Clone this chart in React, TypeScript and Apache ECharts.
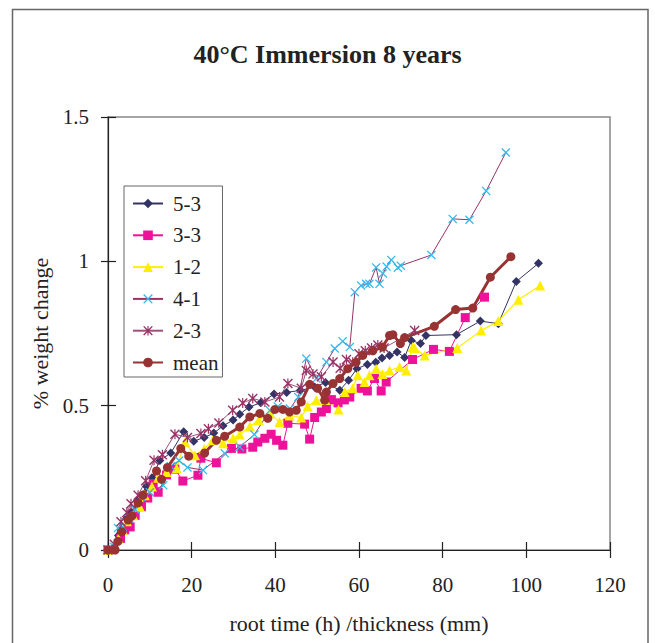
import React, { useEffect, useRef } from "react";
import * as echarts from "echarts";

const titleText = "40°C Immersion 8 years";
const xAxisName = "root time (h) /thickness (mm)";
const yAxisName = "% weight change";
const seriesNames = ["5-3", "3-3", "1-2", "4-1", "2-3", "mean"];

const x53 = [0, 1.5, 2.5, 3.5, 4.5, 5.5, 7, 9.2, 10.5, 12.4, 15, 18.1, 20.5, 23, 25.3, 27.5, 29.9, 31.5, 33.7, 36.5, 39.7, 42.7, 46, 49.4, 52, 55.4, 57.5, 59.5, 62, 64, 65.5, 67.3, 69.1, 70.9, 72.5, 74.7, 76, 83.3, 89, 93.3, 97.6, 102.9];
const y53 = [0, 0.01, 0.05, 0.08, 0.11, 0.13, 0.17, 0.22, 0.25, 0.31, 0.336, 0.41, 0.377, 0.39, 0.405, 0.43, 0.45, 0.47, 0.495, 0.51, 0.54, 0.546, 0.553, 0.565, 0.58, 0.553, 0.588, 0.628, 0.643, 0.65, 0.665, 0.674, 0.686, 0.667, 0.726, 0.715, 0.743, 0.746, 0.793, 0.784, 0.93, 0.993];

const x33 = [0, 1.7, 3, 4, 5.3, 6.5, 8, 9.5, 10.8, 12, 14, 16, 17.9, 21.5, 22.2, 25.9, 29.5, 32, 34.6, 35.8, 37.5, 39, 40.3, 41.8, 43, 47, 48.2, 49.4, 51, 52.2, 53.4, 55, 56.5, 57.8, 60.5, 62, 63.7, 65.3, 66.5, 72.8, 77.8, 81.6, 85.4, 90];
const y33 = [0, -0.01, 0.04, 0.07, 0.08, 0.12, 0.15, 0.18, 0.23, 0.2, 0.26, 0.28, 0.239, 0.259, 0.318, 0.302, 0.352, 0.35, 0.356, 0.374, 0.387, 0.401, 0.38, 0.363, 0.439, 0.436, 0.384, 0.459, 0.478, 0.49, 0.521, 0.51, 0.52, 0.53, 0.56, 0.551, 0.594, 0.551, 0.582, 0.66, 0.695, 0.688, 0.805, 0.876];

const x12 = [0, 1.5, 2.5, 3.5, 4.5, 6, 7.6, 8.8, 10.5, 12, 14, 16.4, 18.4, 20.8, 23, 25, 27.5, 29.9, 31.5, 33.9, 36, 38.7, 41, 43.4, 46.2, 47.7, 49.8, 52, 55.1, 56.6, 58.5, 59.7, 61.3, 62.5, 64.1, 65.6, 67.3, 69.7, 71.3, 72.8, 73.3, 75.7, 83.5, 89.2, 93.3, 98.1, 103.3];
const y12 = [0, 0.01, 0.04, 0.07, 0.1, 0.12, 0.15, 0.19, 0.22, 0.25, 0.27, 0.283, 0.374, 0.328, 0.35, 0.38, 0.37, 0.387, 0.4, 0.428, 0.45, 0.474, 0.443, 0.466, 0.459, 0.498, 0.519, 0.52, 0.487, 0.547, 0.56, 0.605, 0.582, 0.605, 0.628, 0.61, 0.622, 0.634, 0.622, 0.703, 0.7, 0.674, 0.7, 0.76, 0.793, 0.867, 0.916];

const x41 = [0, 1.5, 2.4, 3.5, 5, 6.5, 8, 10, 13.2, 15, 17, 19, 22.7, 27.9, 31.5, 35, 38.7, 40.6, 43.5, 45.5, 47.4, 49.8, 52.2, 54.2, 56.1, 57.8, 59, 60.5, 61.7, 62.5, 64.1, 64.9, 65.7, 66.6, 67.7, 69.3, 70, 77.3, 82.4, 86.4, 90.4, 95.1];
const y41 = [0, 0.01, 0.076, 0.08, 0.11, 0.14, 0.184, 0.2, 0.224, 0.29, 0.31, 0.286, 0.277, 0.335, 0.357, 0.4, 0.484, 0.497, 0.49, 0.53, 0.663, 0.594, 0.651, 0.698, 0.723, 0.703, 0.893, 0.916, 0.922, 0.922, 0.979, 0.922, 0.958, 0.982, 1.005, 0.978, 0.985, 1.022, 1.147, 1.144, 1.244, 1.377];

const x23 = [0, 1.5, 3.1, 4.5, 5.5, 7.2, 9, 11, 13, 16, 19, 22.2, 24, 26.5, 29.8, 32.2, 34.6, 37.5, 41, 43, 46.2, 47.4, 49, 51, 53.8, 55.5, 57, 58.5, 60, 61.5, 63, 64.5, 66, 73.3];
const y23 = [0, 0.02, 0.098, 0.13, 0.16, 0.19, 0.24, 0.311, 0.33, 0.401, 0.39, 0.404, 0.42, 0.44, 0.484, 0.509, 0.525, 0.513, 0.53, 0.577, 0.56, 0.622, 0.61, 0.6, 0.651, 0.63, 0.66, 0.65, 0.68, 0.69, 0.7, 0.71, 0.7, 0.76];

const xMean = [0, 1.7, 2.4, 3.3, 4.8, 5.7, 7.2, 8.4, 11.6, 12.8, 14.2, 17.4, 19.3, 23.1, 25.9, 27.9, 31.5, 33.9, 36.3, 38.2, 39.9, 41.8, 43.4, 45, 46.2, 48.2, 50.1, 51.8, 52.2, 53.8, 55.4, 57.3, 59.3, 60.9, 63.3, 65.6, 67.3, 68.1, 69.9, 70.9, 78, 83.1, 87.2, 91.4, 96.3];
const yMean = [0, 0, 0.03, 0.063, 0.104, 0.118, 0.163, 0.19, 0.274, 0.245, 0.286, 0.352, 0.325, 0.336, 0.38, 0.394, 0.426, 0.461, 0.473, 0.456, 0.487, 0.487, 0.478, 0.484, 0.513, 0.574, 0.56, 0.519, 0.547, 0.577, 0.594, 0.628, 0.65, 0.674, 0.69, 0.703, 0.743, 0.746, 0.715, 0.736, 0.775, 0.833, 0.838, 0.945, 1.016];

const pairs = (xs: number[], ys: number[]) => xs.map((x, i) => [x, ys[i]]);

const XMARK = "path://M0,1 L1,0 L5,4 L9,0 L10,1 L6,5 L10,9 L9,10 L5,6 L1,10 L0,9 L4,5 Z";
const STAR = "path://M0,1 L1,0 L5,4 L9,0 L10,1 L6,5 L10,9 L9,10 L5,6 L1,10 L0,9 L4,5 Z M4.4,0 L5.6,0 L5.6,10 L4.4,10 Z";

const FONT = "'Liberation Serif', 'Times New Roman', serif";

export default function App() {
  const ref = useRef<HTMLDivElement>(null);
  useEffect(() => {
    const chart = echarts.init(ref.current!, null, { renderer: "svg" });
    const mk = (
      name: string,
      data: number[][],
      symbol: string,
      size: number,
      markColor: string,
      lineColor: string,
      lw: number
    ) => ({
      name,
      type: "line",
      data,
      symbol,
      symbolSize: size,
      showAllSymbol: true,
      itemStyle: { color: markColor, borderWidth: 0 },
      lineStyle: { color: lineColor, width: lw },
      emphasis: { disabled: true },
    });
    const axisCommonX = { type: "value", min: 0, max: 120, interval: 20 };
    const axisCommonY = { type: "value", min: 0, max: 1.5, interval: 0.5 };
    chart.setOption({
      animation: false,
      backgroundColor: "#fff",
      title: {
        text: titleText,
        left: "center",
        top: 36,
        textStyle: { fontFamily: FONT, fontSize: 26, fontWeight: "bold", color: "#222" },
      },
      legend: {
        orient: "vertical",
        left: 124,
        top: 186,
        padding: [7, 4, 4, 8],
        itemGap: 10.8,
        itemWidth: 30,
        itemHeight: 12,
        borderColor: "#666",
        borderWidth: 1,
        data: seriesNames,
        textStyle: { fontFamily: FONT, fontSize: 21, color: "#222", lineHeight: 21, padding: [0, 0, 0, 5] },
      },
      grid: {
        left: 108,
        top: 117,
        right: 45,
        bottom: 93,
        show: true,
        borderColor: "#888",
        borderWidth: 1.5,
      },
      xAxis: [
        {
          ...axisCommonX,
          position: "bottom",
          name: xAxisName,
          nameLocation: "middle",
          nameGap: 62,
          nameTextStyle: { fontFamily: FONT, fontSize: 22, color: "#222" },
          axisLine: { show: true, onZero: false, lineStyle: { color: "#222", width: 1.2 } },
          axisTick: { show: true, inside: false, length: 8, lineStyle: { color: "#222", width: 1.2 } },
          axisLabel: { margin: 24, fontFamily: FONT, fontSize: 21, color: "#222" },
          splitLine: { show: false },
        },
        {
          ...axisCommonX,
          position: "bottom",
          axisLine: { show: false, onZero: false },
          axisTick: { show: true, inside: true, length: 8, lineStyle: { color: "#222", width: 1.2 } },
          axisLabel: { show: false },
          splitLine: { show: false },
        },
      ],
      yAxis: [
        {
          ...axisCommonY,
          position: "left",
          name: yAxisName,
          nameLocation: "middle",
          nameGap: 56,
          nameTextStyle: { fontFamily: FONT, fontSize: 22, color: "#222" },
          axisLine: { show: true, onZero: false, lineStyle: { color: "#222", width: 1.2 } },
          axisTick: { show: true, inside: false, length: 7, lineStyle: { color: "#222", width: 1.2 } },
          axisLabel: { margin: 19, fontFamily: FONT, fontSize: 21, color: "#222" },
          splitLine: { show: false },
        },
        {
          ...axisCommonY,
          position: "left",
          axisLine: { show: false, onZero: false },
          axisTick: { show: true, inside: true, length: 8, lineStyle: { color: "#222", width: 1.2 } },
          axisLabel: { show: false },
          splitLine: { show: false },
        },
      ],
      graphic: [
        {
          type: "rect",
          shape: { x: 12.5, y: 9.5, width: 635.5, height: 650 },
          style: { fill: "none", stroke: "#666", lineWidth: 1.5 },
          silent: true,
          z: -1,
        },
      ],
      series: [
        mk(seriesNames[0], pairs(x53, y53), "diamond", 9, "#333366", "#333366", 1),
        mk(seriesNames[1], pairs(x33, y33), "rect", 9, "#EE1199", "#EE1199", 1),
        mk(seriesNames[2], pairs(x12, y12), "triangle", 10, "#FFEE00", "#FFEE00", 1.2),
        mk(seriesNames[3], pairs(x41, y41), XMARK, 9, "#33BBEE", "#993366", 1),
        mk(seriesNames[4], pairs(x23, y23), STAR, 10, "#993366", "#A0507A", 1),
        mk(seriesNames[5], pairs(xMean, yMean), "circle", 9, "#993333", "#993333", 3),
      ],
    });
    return () => chart.dispose();
  }, []);
  return (
    <div
      ref={ref}
      style={{ position: "fixed", left: 0, top: 0, width: 655, height: 643 }}
    />
  );
}
